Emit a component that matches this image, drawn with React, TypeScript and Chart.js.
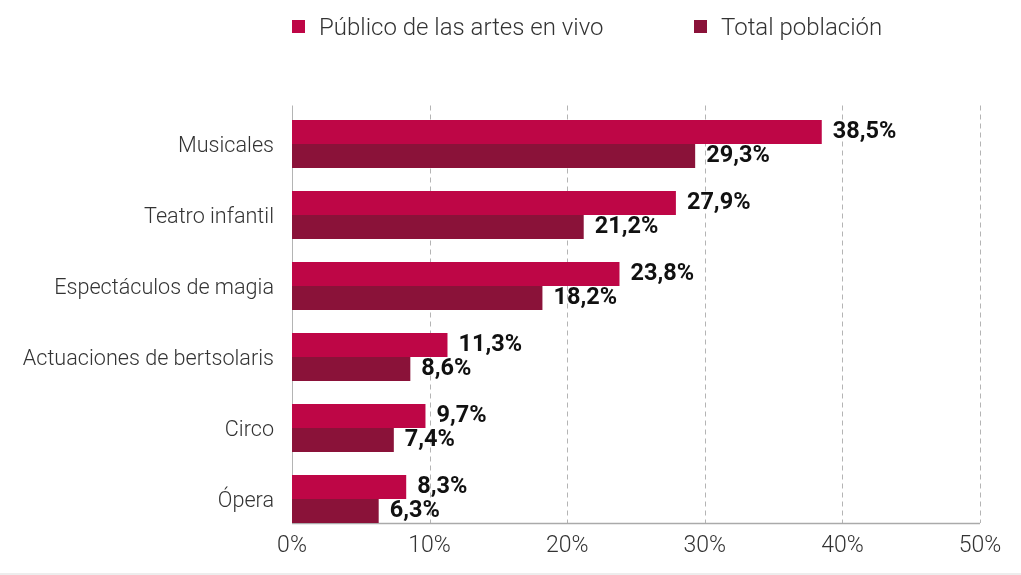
import React, { useEffect, useRef } from "react";
import { Chart, registerables } from "chart.js";

Chart.register(...registerables);

const categories = [
  "Musicales",
  "Teatro infantil",
  "Espectáculos de magia",
  "Actuaciones de bertsolaris",
  "Circo",
  "Ópera",
];
const seriesNames = ["Público de las artes en vivo", "Total población"];
const publicoValues = [38.5, 27.9, 23.8, 11.3, 9.7, 8.3];
const totalValues = [29.3, 21.2, 18.2, 8.6, 7.4, 6.3];
const seriesColors = ["#BE0646", "#8A1239"];
const xTicks = [0, 10, 20, 30, 40, 50];

const fmt = (v: number) => v.toFixed(1).replace(".", ",") + "%";

const legendPlugin = {
  id: "customLegend",
  afterDraw(chart: any) {
    const ctx = chart.ctx;
    const left = chart.chartArea.left;
    const starts = [left, left + 402];
    ctx.save();
    ctx.font = "300 24px Roboto";
    ctx.textBaseline = "middle";
    ctx.textAlign = "left";
    chart.data.datasets.forEach((ds: any, i: number) => {
      const x = starts[i];
      ctx.fillStyle = ds.backgroundColor;
      ctx.fillRect(x, 20, 13, 13);
      ctx.fillStyle = "#333333";
      ctx.fillText(ds.label, x + 27, 29);
    });
    ctx.restore();
  },
};

const gridPlugin = {
  id: "customGrid",
  beforeDatasetsDraw(chart: any) {
    const ctx = chart.ctx;
    const xs = chart.scales.x;
    const area = chart.chartArea;
    const lastMeta = chart.getDatasetMeta(chart.data.datasets.length - 1);
    const lastBar = lastMeta.data[lastMeta.data.length - 1];
    const bottom = lastBar.y + lastBar.height / 2;
    const top = area.top - 3;
    ctx.save();
    ctx.lineWidth = 1;
    ctx.strokeStyle = "#b4b4b4";
    xs.ticks.forEach((t: any) => {
      const x = Math.round(xs.getPixelForValue(t.value)) + 0.5;
      ctx.setLineDash(t.value === 0 ? [] : [5, 4]);
      ctx.beginPath();
      ctx.moveTo(x, top);
      ctx.lineTo(x, bottom);
      ctx.stroke();
    });
    ctx.setLineDash([]);
    ctx.strokeStyle = "#aaaaaa";
    ctx.lineWidth = 1.5;
    ctx.beginPath();
    ctx.moveTo(xs.getPixelForValue(0), Math.round(bottom) + 0.5);
    ctx.lineTo(xs.getPixelForValue(50), Math.round(bottom) + 0.5);
    ctx.stroke();
    ctx.restore();
  },
};

const labelPlugin = {
  id: "valueLabels",
  afterDatasetsDraw(chart: any) {
    const ctx = chart.ctx;
    ctx.save();
    ctx.font = "bold 23.5px Roboto";
    ctx.fillStyle = "#111111";
    ctx.textAlign = "left";
    ctx.textBaseline = "middle";
    chart.data.datasets.forEach((ds: any, di: number) => {
      const meta = chart.getDatasetMeta(di);
      meta.data.forEach((el: any, i: number) => {
        ctx.fillText(fmt(ds.data[i]), el.x + 11, el.y);
      });
    });
    ctx.restore();
  },
};

export default function App() {
  const ref = useRef<HTMLCanvasElement>(null);
  useEffect(() => {
    document.body.style.margin = "0";
    const chart = new Chart(ref.current!, {
      type: "bar",
      data: {
        labels: categories,
        datasets: [
          {
            label: seriesNames[0],
            data: publicoValues,
            backgroundColor: seriesColors[0],
            categoryPercentage: 0.676,
            barPercentage: 1,
          },
          {
            label: seriesNames[1],
            data: totalValues,
            backgroundColor: seriesColors[1],
            categoryPercentage: 0.676,
            barPercentage: 1,
          },
        ],
      },
      options: {
        indexAxis: "y",
        animation: false,
        responsive: false,
        maintainAspectRatio: false,
        layout: { padding: { top: 108.5, right: 41, left: 0, bottom: 0 } },
        plugins: { legend: { display: false }, tooltip: { enabled: false } },
        scales: {
          x: {
            min: 0,
            max: 50,
            afterBuildTicks: (s: any) => {
              s.ticks = xTicks.map((v) => ({ value: v }));
            },
            afterFit: (s: any) => {
              s.height = 38.5;
            },
            grid: { display: false, drawTicks: false },
            border: { display: false },
            ticks: {
              padding: -2,
              color: "#333333",
              font: { family: "Roboto", size: 23, weight: "300" },
              callback: (v: any) => v + "%",
            },
          },
          y: {
            afterFit: (s: any) => {
              s.width = 292;
            },
            grid: { display: false, drawTicks: false },
            border: { display: false },
            ticks: {
              padding: 18,
              labelOffset: 3,
              color: "#333333",
              font: { family: "Roboto", size: 21.6, weight: "300" },
            },
          },
        },
      },
      plugins: [gridPlugin, labelPlugin, legendPlugin],
    });
    return () => chart.destroy();
  }, []);
  return (
    <div style={{ width: 1021, height: 575, background: "#fff" }}>
      <canvas ref={ref} width={1021} height={573} style={{ display: "block" }} />
      <div style={{ height: 2, background: "#ededed" }} />
    </div>
  );
}
